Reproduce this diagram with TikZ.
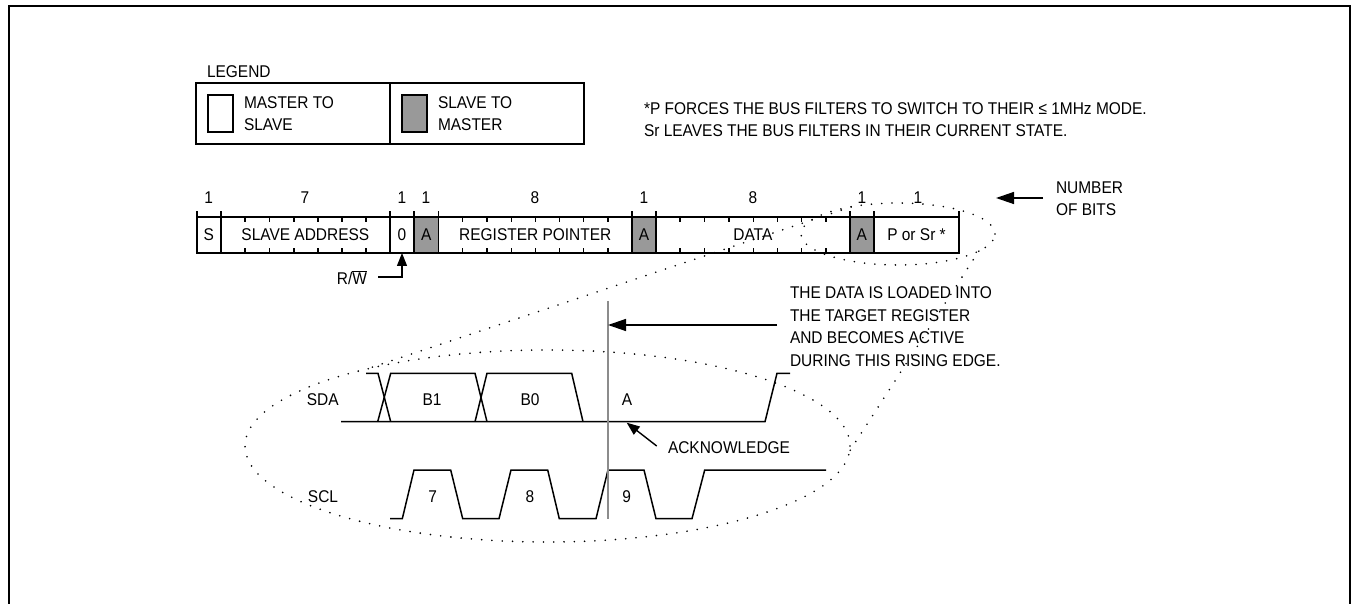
\documentclass[tikz,border=0pt]{standalone}
\usepackage{xcolor}
\usepackage{fontspec}
\setmainfont[FakeStretch=0.91]{Liberation Sans}
\usetikzlibrary{shapes.geometric,arrows.meta,calc}
\definecolor{ackgray}{RGB}{153,153,153}
\definecolor{edgegray}{RGB}{140,140,140}

\begin{document}
\begin{tikzpicture}[
  x=1pt,y=-1pt,
  every node/.style={font=\fontsize{17}{22.5}\selectfont,inner sep=0pt,outer sep=0pt},
  cell/.style={draw,line width=1.6pt,minimum height=36pt,align=center},
  ackcell/.style={cell,fill=ackgray},
  swatch/.style={draw,line width=1.4pt,minimum width=25pt,minimum height=37pt},
  lbl/.style={anchor=base},
  txt/.style={anchor=base west,align=left},
  arr/.style={-{Stealth[length=18pt,width=12pt,inset=0pt]},line width=1.4pt},
  smallarr/.style={-{Stealth[length=13pt,width=10pt,inset=0pt]},line width=1.4pt},
  wave/.style={line width=1.5pt,line join=miter},
  dots/.style={line width=1.8pt,line cap=round,dash pattern=on 0pt off 10.3pt}
]
\useasboundingbox (0,0) rectangle (1353,604);
% outer frame, open at the bottom
\coordinate (fbl) at (9,604);
\coordinate (ftl) at (9,6);
\coordinate (ftr) at (1350,6);
\coordinate (fbr) at (1350,604);
\draw[line width=2pt] (fbl) -- (ftl) -- (ftr) -- (fbr);

% Legend
\node[txt] (legend) at (207,78) {LEGEND};
\node[draw,line width=1.4pt,minimum width=194pt,minimum height=61pt] (lgleft) at (293,113.5) {};
\node[draw,line width=1.4pt,minimum width=194pt,minimum height=61pt] (lgright) at (487,113.5) {};
\node[swatch] (swm) at (220.5,113.5) {};
\node[swatch,fill=ackgray] (sws) at (414.5,113.5) {};
\node[txt] (mts) at (244,131) {MASTER TO\\SLAVE};
\node[txt] (stm) at (438,131) {SLAVE TO\\MASTER};

% Note on the filters
\node[txt] (note) at (644,137) {*P FORCES THE BUS FILTERS TO SWITCH TO THEIR ≤ 1MHz MODE.\\Sr LEAVES THE BUS FILTERS IN THEIR CURRENT STATE.};

% Bit counts
\node[lbl] (n1) at (208.7,204) {1};
\node[lbl] (n2) at (305,204) {7};
\node[lbl] (n3) at (402,204) {1};
\node[lbl] (n4) at (426,204) {1};
\node[lbl] (n5) at (535,204) {8};
\node[lbl] (n6) at (644,204) {1};
\node[lbl] (n7) at (753,204) {8};
\node[lbl] (n8) at (862,204) {1};
\node[lbl] (n9) at (918,204) {1};
\node[txt] (bits) at (1056,216) {NUMBER\\OF BITS};
\coordinate (bitstail) at (1043,198);
\coordinate (bitstip) at (996,198);
\draw[arr] (bitstail) -- (bitstip);

% Frame format
\node[cell,minimum width=24pt] (s) at (208.7,235) {S};
\node[cell,minimum width=169.3pt] (addr) at (305.35,235) {SLAVE ADDRESS};
\node[cell,minimum width=24pt] (zero) at (402,235) {0};
\node[ackcell,minimum width=24.5pt] (a1) at (426.25,235) {A};
\node[cell,minimum width=193.5pt] (reg) at (535.25,235) {REGISTER POINTER};
\node[ackcell,minimum width=24pt] (a2) at (644,235) {A};
\node[cell,minimum width=193.7pt] (data) at (752.85,235) {DATA};
\node[ackcell,minimum width=24.3pt] (a3) at (861.85,235) {A};
\node[cell,minimum width=85pt] (stop) at (916.5,235) {P or Sr *};
% ticks: long ones on the cell edges, short ones for each bit
\foreach \tx in {196.7,220.7,390,414,438.5,632,656,849.7,874,959}
  \draw[line width=1.6pt] (\tx,217) -- (\tx,211);
\foreach \tx in {245,269.5,294,318,342,366,462.7,486.9,511.1,535.3,559.5,583.7,607.9,680,704.7,729,753.3,777.3,801.7,826} {
  \draw[line width=1.2pt] (\tx,217) -- (\tx,222);
  \draw[line width=1.2pt] (\tx,253) -- (\tx,248);
}
\node[lbl] (rw) at (352,284) {R/$\overline{\mbox{W}}$};
\coordinate (rwtail) at (378,277);
\draw[smallarr] (rwtail) -| (zero.south);

% Timing
\node[lbl] (sda) at (322.7,405) {SDA};
\node[lbl] (scl) at (323,502) {SCL};
\node[lbl] (b1) at (432,405) {B1};
\node[lbl] (b0) at (530,405) {B0};
\node[lbl] (ak) at (627,405) {A};
\node[lbl] (c7) at (432.7,502) {7};
\node[lbl] (c8) at (530,502) {8};
\node[lbl] (c9) at (626.7,502) {9};
% SDA
\draw[wave] (341,421.7) -- (765,421.7) -- (777,373.3) -- (790,373.3);
\draw[wave] (366,373.3) -- (378,373.3) -- (390.7,421.7);
\draw[wave] (377.7,421.7) -- (390.7,373.3) -- (475,373.3) -- (487,421.7);
\draw[wave] (475,421.7) -- (487,373.3) -- (571.7,373.3) -- (583,421.7);
% SCL
\draw[wave] (390,518.7) -- (402.3,518.7) -- (414,470) -- (450.7,470) -- (462.7,518.7) -- (499,518.7)
  -- (511,470) -- (547.7,470) -- (559.3,518.7) -- (596,518.7) -- (608,470) -- (644,470)
  -- (656,518.7) -- (692,518.7) -- (704.7,470) -- (826,470);
% rising edge marker
\coordinate (edgetop) at (608,301);
\coordinate (edgebot) at (608,519);
\coordinate (edgemark) at (608,325);
\coordinate (edgetail) at (777,325);
\draw[line width=2pt,edgegray] (edgetop) -- (edgebot);
\draw[arr] (edgetail) -- (edgemark);
\node[txt] (load) at (790,366) {THE DATA IS LOADED INTO\\THE TARGET REGISTER\\AND BECOMES ACTIVE\\DURING THIS RISING EDGE.};
\node[txt] (ack) at (668,453) {ACKNOWLEDGE};
\coordinate (acktail) at (656.7,446);
\coordinate (acktip) at (626.7,422.7);
\draw[smallarr] (acktail) -- (acktip);

% Dotted magnifier
\node[ellipse,dots,draw,minimum width=194pt,minimum height=62pt] (smalloval) at (898,234) {};
\node[ellipse,dots,draw,minimum width=605pt,minimum height=192pt] (bigoval) at (547.5,446) {};
\draw[dots] (smalloval.150) -- (bigoval.157);
\draw[dots] (smalloval.-12) -- (bigoval.-1);
\end{tikzpicture}
\end{document}
